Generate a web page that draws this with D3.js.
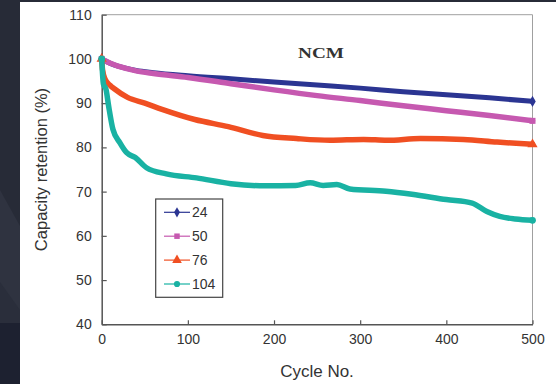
<!DOCTYPE html>
<html>
<head>
<meta charset="utf-8">
<script src="https://cdn.jsdelivr.net/npm/d3@7"></script>
<style>
  html, body { margin: 0; padding: 0; background: #272b37; }
  svg { display: block; }
  text { font-family: "Liberation Sans", Arial, sans-serif; fill: #333; }
</style>
</head>
<body>
<div id="chart"></div>
<script>
// Данные
const seriesNames = ["24", "50", "76", "104"];
const seriesColors = ["#2b3592", "#c659b0", "#f04f22", "#19b2a3"];
const seriesSymbols = [d3.symbolDiamond, d3.symbolSquare, d3.symbolTriangle, d3.symbolCircle];

const cycles24 = [0, 10, 20, 40, 60, 100, 150, 200, 250, 300, 350, 400, 450, 500];
const cap24 = [100, 99.0, 98.3, 97.4, 96.9, 96.2, 95.5, 94.8, 94.1, 93.4, 92.6, 91.9, 91.2, 90.4];

const cycles50 = [0, 10, 20, 40, 60, 100, 150, 200, 250, 300, 350, 400, 450, 500];
const cap50 = [100, 99.0, 98.3, 97.3, 96.7, 95.8, 94.4, 93.0, 91.7, 90.6, 89.4, 88.3, 87.2, 86.0];

const cycles76 = [0, 1, 4, 10, 15, 30, 50, 70, 108, 147, 187, 226, 265, 304, 331, 370, 420, 459, 500];
const cap76 = [100, 97.5, 95.4, 94.0, 93.2, 91.3, 90.0, 88.6, 86.3, 84.7, 82.7, 82.0, 81.6, 81.8, 81.6, 82.0, 81.8, 81.2, 80.7];

const cycles104 = [0, 2, 5, 8, 13, 21, 29, 39, 52, 75, 110, 150, 190, 225, 242, 257, 273, 288, 330, 360, 400, 430, 447, 462, 480, 500];
const cap104 = [100, 94.3, 93.1, 89.4, 84.1, 81.1, 78.8, 77.7, 75.4, 74.0, 73.1, 71.8, 71.3, 71.4, 72.0, 71.4, 71.6, 70.6, 70.1, 69.4, 68.2, 67.4, 65.5, 64.4, 63.8, 63.5];

const xTicks = [0, 100, 200, 300, 400, 500];
const yTicks = [40, 50, 60, 70, 80, 90, 100, 110];

const series = [
    { cycles: cycles24, cap: cap24 },
    { cycles: cycles50, cap: cap50 },
    { cycles: cycles76, cap: cap76 },
    { cycles: cycles104, cap: cap104 }
];

const W = 556, H = 384;
const plot = { left: 101.7, right: 532.5, top: 14.7, bottom: 324.3 };

const svg = d3.select("#chart").append("svg")
    .attr("width", W)
    .attr("height", H);

// Тёмный фон слайда слева
svg.append("rect").attr("width", W).attr("height", H).attr("fill", "#272b37");
svg.append("path").attr("d", "M0,190 L20,226 L20,323 L0,323 Z").attr("fill", "#2f3340");
svg.append("path").attr("d", "M0,282 L20,310 L20,323 L0,323 Z").attr("fill", "#2a2e3b");
svg.append("rect").attr("x", 0).attr("y", 323).attr("width", 20).attr("height", H - 323).attr("fill", "#1d2130");

// Белая панель
svg.append("rect").attr("x", 20).attr("y", 2).attr("width", W - 20).attr("height", H - 2).attr("fill", "#fff");

const x = d3.scaleLinear().domain([0, 500]).range([plot.left, plot.right]);
const y = d3.scaleLinear().domain([40, 110]).range([plot.bottom, plot.top]);

// Рамка области графика
svg.append("path")
    .attr("d", `M${plot.left},${plot.top} H${plot.right} V${plot.bottom}`)
    .attr("fill", "none")
    .attr("stroke", "#a0a0a0")
    .attr("stroke-width", 1);

// Оси
const xAxis = svg.append("g")
    .attr("transform", `translate(0,${plot.bottom})`)
    .call(d3.axisBottom(x).tickValues(xTicks).tickSizeInner(-4).tickSizeOuter(0).tickPadding(10));
const yAxis = svg.append("g")
    .attr("transform", `translate(${plot.left},0)`)
    .call(d3.axisLeft(y).tickValues(yTicks).tickSizeInner(-5).tickSizeOuter(0).tickPadding(10));

[xAxis, yAxis].forEach(g => {
    g.select(".domain").attr("stroke", "#555").attr("stroke-width", 1.5);
    g.selectAll(".tick line").attr("stroke", "#555").attr("stroke-width", 1.2);
    g.selectAll(".tick text")
        .style("font-family", "'Liberation Sans', Arial, sans-serif")
        .style("font-size", "14px")
        .attr("fill", "#333");
});
xAxis.selectAll(".tick text").attr("dy", "0.71em");

// Линии серий (маркеры каждого цикла сливаются в толстую полосу)
const line = d3.line()
    .x(d => x(d[0]))
    .y(d => y(d[1]))
    .curve(d3.curveMonotoneX);

series.forEach((s, i) => {
    const pts = s.cycles.map((c, k) => [c, s.cap[k]]);
    svg.append("path")
        .datum(pts)
        .attr("d", line)
        .attr("fill", "none")
        .attr("stroke", seriesColors[i])
        .attr("stroke-width", i === 0 ? 5 : 5.5)
        .attr("stroke-linejoin", "round")
        .attr("stroke-linecap", "round");
    // маркеры на концах
    svg.append("g").selectAll("path")
        .data([pts[0], pts[pts.length - 1]])
        .join("path")
        .attr("transform", d => `translate(${x(d[0])},${y(d[1])})`)
        .attr("d", d3.symbol().type(seriesSymbols[i]).size(i === 2 ? 45 : 36))
        .attr("fill", seriesColors[i]);
});

// Подпись NCM
svg.append("text")
    .attr("x", 321).attr("y", 57.7)
    .attr("text-anchor", "middle")
    .attr("textLength", 46)
    .attr("lengthAdjust", "spacingAndGlyphs")
    .style("font-family", "'Liberation Serif', 'Times New Roman', serif")
    .style("font-weight", "bold")
    .style("font-size", "14.5px")
    .attr("fill", "#111")
    .text("NCM");

// Заголовки осей
svg.append("text")
    .attr("x", 317).attr("y", 377)
    .attr("text-anchor", "middle")
    .style("font-size", "17px")
    .text("Cycle No.");

svg.append("text")
    .attr("transform", `translate(47,${(plot.top + plot.bottom) / 2}) rotate(-90)`)
    .attr("text-anchor", "middle")
    .style("font-size", "16.5px")
    .text("Capacity retention (%)");

// Легенда
const legend = svg.append("g");
legend.append("rect")
    .attr("x", 155.7).attr("y", 199)
    .attr("width", 67).attr("height", 98.3)
    .attr("fill", "#fff")
    .attr("stroke", "#444")
    .attr("stroke-width", 1.2);

const legendY = d3.scalePoint().domain(seriesNames).range([212.3, 284]);
seriesNames.forEach((name, i) => {
    const ly = legendY(name);
    legend.append("line")
        .attr("x1", 164).attr("x2", 190)
        .attr("y1", ly).attr("y2", ly)
        .attr("stroke", seriesColors[i])
        .attr("stroke-width", 1.2);
    legend.append("path")
        .attr("transform", `translate(177,${ly})`)
        .attr("d", d3.symbol().type(seriesSymbols[i]).size(i === 2 ? 40 : 30))
        .attr("fill", seriesColors[i]);
    legend.append("text")
        .attr("x", 192).attr("y", ly)
        .attr("dy", "0.36em")
        .style("font-size", "14px")
        .text(name);
});
</script>
</body>
</html>
